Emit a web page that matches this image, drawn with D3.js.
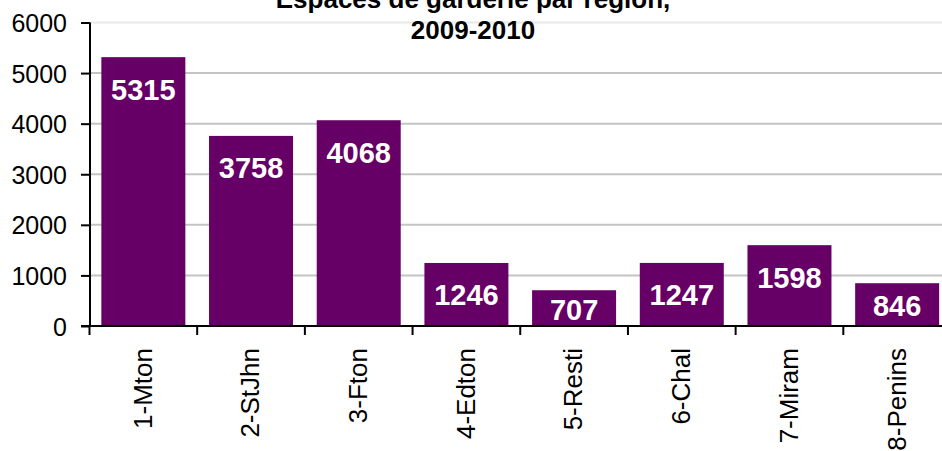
<!DOCTYPE html>
<html><head><meta charset="utf-8">
<script src="https://cdn.jsdelivr.net/npm/d3@7"></script>
<style>body{margin:0;background:#fff}svg{display:block}text{font-family:"Liberation Sans",Arial,sans-serif}</style>
</head><body><svg id="c" width="942" height="451"></svg>
<script>
const categories = ["1-Mton","2-StJhn","3-Fton","4-Edton","5-Resti","6-Chal","7-Miram","8-Penins"];
const values = [5315,3758,4068,1246,707,1247,1598,846];
const yTicks = [0,1000,2000,3000,4000,5000,6000];
const titleLines = ["Espaces de garderie par région,","2009-2010"];

const svg = d3.select("#c");
const x = d3.scaleBand().domain(categories).range([89.5, 951]).paddingInner(0.22).paddingOuter(0.11);
const y = d3.scaleLinear().domain([0,6000]).range([326, 22.5]);

// gridlines
svg.append("g").selectAll("line").data(yTicks.filter(d=>d>0)).join("line")
  .attr("x1",90).attr("x2",942).attr("y1",d=>y(d)).attr("y2",d=>y(d))
  .attr("stroke",d=>d===6000?"#e8e8e8":"#c4c4c4").attr("stroke-width",2);

// bars
svg.append("g").selectAll("rect").data(values).join("rect")
  .attr("x",(d,i)=>x(categories[i])).attr("width",x.bandwidth())
  .attr("y",d=>y(d)).attr("height",d=>y(0)-y(d)).attr("fill","#660066");

// value labels
svg.append("g").selectAll("text").data(values).join("text")
  .attr("x",(d,i)=>x(categories[i])+x.bandwidth()/2)
  .attr("y",d=>Math.min(y(d)+32,(y(d)+y(0))/2+1))
  .attr("dy","0.36em").attr("text-anchor","middle")
  .attr("fill","#fff").attr("font-weight","bold").attr("font-size",29)
  .text(d=>d);

// y axis
const ya = svg.append("g").attr("transform","translate(90,0)")
  .call(d3.axisLeft(y).tickValues(yTicks).tickSize(9).tickPadding(14).tickFormat(d3.format("d")));
ya.select(".domain").attr("stroke","#000").attr("stroke-width",2).attr("d","M0,326V22.5");
ya.selectAll(".tick line").attr("stroke","#000").attr("stroke-width",2);
ya.selectAll(".tick text").attr("font-size",25).attr("fill","#000").attr("dy","0.36em").attr("font-family","Liberation Sans, Arial, sans-serif");

// x axis
const xa = svg.append("g").attr("transform","translate(0,326)")
  .call(d3.axisBottom(x).tickSize(0).tickFormat(""));
xa.select(".domain").attr("stroke","#000").attr("stroke-width",2).attr("d","M81,0H942");
const step = x.step();
svg.append("g").selectAll("line").data(d3.range(categories.length+1)).join("line")
  .attr("x1",i=>89.5+i*step).attr("x2",i=>89.5+i*step).attr("y1",326).attr("y2",335)
  .attr("stroke","#000").attr("stroke-width",2);
svg.append("g").selectAll("text").data(categories).join("text")
  .attr("transform",d=>`translate(${x(d)+x.bandwidth()/2-1},348) rotate(-90)`)
  .attr("text-anchor","end").attr("dy","0.36em")
  .attr("font-size",26).attr("fill","#000").text(d=>d);

// title
svg.append("g").selectAll("text").data(titleLines).join("text")
  .attr("x",473).attr("y",(d,i)=>8+i*31).attr("text-anchor","middle")
  .attr("font-weight","bold").attr("font-size",26).attr("fill","#000").text(d=>d);
</script></body></html>
